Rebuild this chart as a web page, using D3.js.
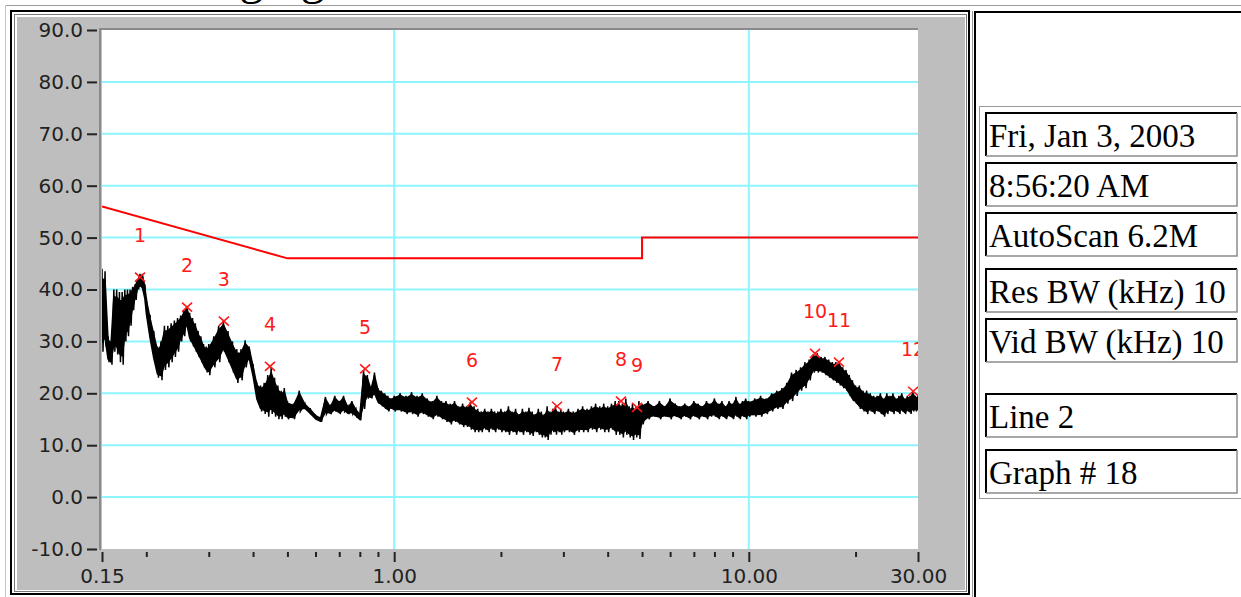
<!DOCTYPE html>
<html>
<head>
<meta charset="utf-8">
<script src="https://cdn.jsdelivr.net/npm/d3@7"></script>
<style>
  body { margin: 0; background: #fff; }
  svg { display: block; }
</style>
</head>
<body>
<svg id="chart" width="1241" height="597"></svg>
<script>
// level axis (dBuV) and frequency axis (MHz)
const yTicks = [-10, 0, 10, 20, 30, 40, 50, 60, 70, 80, 90];
const xMajor = [0.15, 1, 10, 30];
const xMajorLabels = ["0.15", "1.00", "10.00", "30.00"];
const xMinor = [0.2, 0.3, 0.4, 0.5, 0.6, 0.7, 0.8, 0.9, 2, 3, 4, 5, 6, 7, 8, 9, 20];
const gridLevels = [0, 10, 20, 30, 40, 50, 60, 70, 80];
const gridFreqs = [1, 10];

// limit line
const limitFreq = [0.15, 0.5, 5, 5, 30];
const limitLevel = [56, 46, 46, 50, 50];

// peak markers
const markerFreq = [0.192, 0.2606, 0.331, 0.4465, 0.828, 1.657, 2.879, 4.36, 4.84, 15.37, 17.96, 29.06];
const markerLevel = [42.4, 36.6, 33.9, 25.2, 24.7, 18.3, 17.5, 18.5, 17.3, 27.7, 26.0, 20.4];
const markerLabels = ["1", "2", "3", "4", "5", "6", "7", "8", "9", "10", "11", "12"];

// scan trace, read as max / min envelope per frequency
const traceFreq = [
  0.150, 0.153, 0.156, 0.159, 0.162, 0.165, 0.168, 0.171, 0.174, 0.177, 0.180, 0.183, 0.186, 0.189, 0.192, 0.195, 0.198,
  0.200, 0.205, 0.210, 0.215, 0.220, 0.225, 0.230, 0.235, 0.240, 0.245, 0.250, 0.255, 0.260, 0.265, 0.270, 0.275, 0.280, 0.285, 0.290, 0.295, 0.300,
  0.31, 0.32, 0.33, 0.34, 0.35, 0.36, 0.37, 0.38, 0.39, 0.40, 0.41, 0.42, 0.43, 0.44, 0.45, 0.46, 0.47, 0.48, 0.49, 0.50,
  0.52, 0.54, 0.56, 0.58, 0.60, 0.62, 0.64, 0.66, 0.68, 0.70, 0.72, 0.74, 0.76, 0.78, 0.80, 0.82, 0.84, 0.86, 0.88, 0.90, 0.92, 0.94, 0.96, 0.98, 1.00,
  1.04, 1.08, 1.12, 1.16, 1.20, 1.24, 1.28, 1.32, 1.36, 1.40, 1.44, 1.48, 1.52, 1.56, 1.60, 1.64, 1.68, 1.72, 1.76, 1.80, 1.84, 1.88, 1.92, 1.96, 2.00,
  2.05, 2.10, 2.15, 2.20, 2.25, 2.30, 2.35, 2.40, 2.45, 2.50, 2.55, 2.60, 2.65, 2.70, 2.75, 2.80, 2.85, 2.90, 2.95, 3.00,
  3.1, 3.2, 3.3, 3.4, 3.5, 3.6, 3.7, 3.8, 3.9, 4.0, 4.1, 4.2, 4.3, 4.4, 4.5, 4.6, 4.7, 4.8, 4.9, 5.0,
  5.2, 5.4, 5.6, 5.8, 6.0, 6.2, 6.4, 6.6, 6.8, 7.0, 7.2, 7.4, 7.6, 7.8, 8.0, 8.2, 8.4, 8.6, 8.8, 9.0, 9.2, 9.4, 9.6, 9.8, 10.0,
  10.4, 10.8, 11.2, 11.6, 12.0, 12.4, 12.8, 13.2, 13.6, 14.0, 14.4, 14.8, 15.2, 15.6, 16.0, 16.4, 16.8, 17.2, 17.6, 18.0, 18.4, 18.8, 19.2, 19.6, 20.0,
  20.5, 21.0, 21.5, 22.0, 22.5, 23.0, 23.5, 24.0, 24.5, 25.0, 25.5, 26.0, 26.5, 27.0, 27.5, 28.0, 28.5, 29.0, 29.5, 30.0
];
const traceHi = [
  44, 43.5, 31, 30, 40, 40, 39.5, 39.5, 40, 40, 40, 40.5, 41, 42, 43, 43, 41,
  38.5, 35, 32, 29, 30, 33, 33, 33.5, 34, 34.5, 35, 36, 36.8, 35.5, 34.5, 33.5, 32, 31, 29.5, 29, 29.5,
  31, 33, 33.9, 32, 30, 28.5, 28.5, 30.2, 29, 25.5, 22, 21.5, 22, 23.5, 25, 23, 21.5, 20.5, 21, 18.5,
  18, 20.5, 18, 17, 15.8, 15.3, 19.3, 17.5, 19.5, 18.5, 19.5, 17.5, 18.5, 17, 16, 24.5, 23.5, 21, 24, 21, 20.5, 20, 19.5, 19, 19.5,
  20, 19.5, 20.2, 19.5, 20, 19, 18.5, 19.5, 18.5, 18.5, 18, 18.5, 17.5, 18, 17.5, 18.3, 17.5, 17, 16.5, 17, 16.5, 17, 16.5, 16.5, 17,
  16.5, 17.5, 16.5, 17, 16, 17, 16.5, 17.2, 16.5, 16, 17, 16.5, 16, 17.5, 16.5, 17, 17.5, 16.5, 17, 16.5,
  17, 16.5, 17, 17.5, 17, 17.5, 18, 17.5, 18, 17.5, 18, 18.5, 18.5, 18, 19, 17.5, 18, 17.3, 18.5, 18,
  18.5, 17.5, 18.5, 17.5, 19, 18, 17.5, 18, 17.5, 18.5, 18, 17.5, 18.5, 18, 19, 18, 18.5, 17.5, 18.5, 18, 19.3, 18, 18.5, 19, 18.5,
  19, 19.5, 19, 20, 20.5, 21, 22, 24, 24.5, 25, 26, 26.5, 27.5, 27.7, 27, 27, 26.5, 26, 26, 26, 25, 24.5, 23.5, 22.5, 21.5,
  21.5, 20.5, 20.5, 20, 19.5, 19.5, 20, 19, 20, 19.5, 20, 19, 19.5, 20, 19, 19.5, 19.5, 20.4, 19.5, 19.5
];
const traceLo = [
  28, 29, 26, 25.5, 28, 27.5, 26, 25.5, 30, 31, 33, 36, 38, 40, 40.5, 40, 38,
  35, 30, 26, 23, 22.5, 24.5, 25, 26, 27, 28, 30, 31, 33, 30, 29, 28, 27, 26, 25, 24, 23.5,
  25, 26, 28, 26, 24, 22, 22.5, 25, 26.5, 23, 18.5, 16.5, 16, 15.5, 16, 15.5, 15, 15, 15.5, 15,
  15, 16.5, 17, 16, 15, 14.5, 16, 16, 16.5, 16, 16.5, 16, 16, 15.5, 14.8, 17, 19, 19, 19.5, 18, 17.5, 17, 16.5, 17, 16.5,
  16.5, 16, 16, 15.5, 16, 15.5, 15, 15.5, 15, 14.5, 14, 14.5, 14, 13.5, 13.5, 13, 12.5, 12.5, 12.5, 13, 12.5, 13, 12.5, 13, 12.5,
  12.5, 12, 12.5, 12, 12.5, 12, 12.5, 12, 11.8, 12.5, 12, 11.5, 11.5, 11, 12, 12.5, 12, 12.5, 12, 12.5,
  12.5, 12, 12.5, 12.5, 12.5, 13, 12.5, 13, 12.5, 12.5, 13, 12, 12, 11.5, 12, 11.5, 11, 11.5, 11.2, 14,
  15, 15.5, 15, 15.5, 15, 15.5, 15, 15.5, 15, 15.5, 15, 15.5, 15, 15.5, 15.5, 15, 15.5, 15, 15.5, 15, 15.5, 15, 15.5, 15, 15.5,
  15.5, 15.5, 16, 16.5, 17, 17, 18, 18.5, 19.5, 20.5, 21, 22.5, 24, 24, 24, 23.5, 23, 22.5, 22, 21.5, 21, 20.5, 19.5, 18.5, 18,
  17, 16.5, 16, 16.5, 16, 16.5, 16, 15.5, 16, 16.5, 16, 16.5, 16, 16.5, 16, 16.5, 16, 16.5, 16.5, 16.5
];

// settings table on the right
const infoLines = ["Fri, Jan 3, 2003", "8:56:20 AM", "AutoScan 6.2M", "Res BW (kHz) 10", "Vid BW (kHz) 10", "Line 2", "Graph # 18"];

const svg = d3.select("#chart");

// page heading, mostly above the visible area (cut off in the original too)
svg.append("text")
    .attr("x", 147)
    .attr("y", -6)
    .attr("font-family", "Liberation Serif")
    .attr("font-size", 48)
    .attr("fill", "#000")
    .text("Charging");

// page and cell frames
svg.append("line").attr("x1", 5).attr("y1", 5.5).attr("x2", 1241).attr("y2", 5.5).attr("stroke", "#9c9c9c");
svg.append("line").attr("x1", 5.5).attr("y1", 5).attr("x2", 5.5).attr("y2", 597).attr("stroke", "#c4c4c4");

svg.append("rect")
    .attr("x", 11).attr("y", 11).attr("width", 958).attr("height", 583)
    .attr("fill", "none").attr("stroke", "#000").attr("stroke-width", 2);
svg.append("rect")
    .attr("x", 14.5).attr("y", 14.5).attr("width", 952).attr("height", 577)
    .attr("fill", "none").attr("stroke", "#777");
svg.append("rect")
    .attr("x", 17).attr("y", 17).attr("width", 948).attr("height", 573)
    .attr("fill", "#bebebe");

// right cell
svg.append("line").attr("x1", 972.5).attr("y1", 11).attr("x2", 972.5).attr("y2", 597).attr("stroke", "#999");
svg.append("line").attr("x1", 975).attr("y1", 11).attr("x2", 975).attr("y2", 597).attr("stroke", "#000").attr("stroke-width", 2);
svg.append("line").attr("x1", 974).attr("y1", 12).attr("x2", 1241).attr("y2", 12).attr("stroke", "#000").attr("stroke-width", 2);

// scales
const x = d3.scaleLog().domain([0.15, 30]).range([102, 918]);
const y = d3.scaleLinear().domain([-10, 90]).range([549, 30]);

// plot area
svg.append("rect")
    .attr("x", x(0.15)).attr("y", y(90)).attr("width", x(30) - x(0.15)).attr("height", y(-10) - y(90))
    .attr("fill", "#fff");
svg.append("line").attr("x1", 100).attr("y1", 28).attr("x2", 100).attr("y2", 550)
    .attr("stroke", "#8a8a8a").attr("stroke-width", 2);
svg.append("line").attr("x1", 99).attr("y1", 29).attr("x2", 918).attr("y2", 29)
    .attr("stroke", "#8a8a8a").attr("stroke-width", 2);

svg.append("clipPath").attr("id", "plotClip")
    .append("rect")
    .attr("x", x(0.15)).attr("y", y(90)).attr("width", x(30) - x(0.15)).attr("height", y(-10) - y(90));

const plot = svg.append("g").attr("clip-path", "url(#plotClip)");

// cyan grid
plot.selectAll(".hgrid")
    .data(gridLevels)
    .enter()
    .append("line")
    .attr("x1", x(0.15)).attr("x2", x(30))
    .attr("y1", d => y(d)).attr("y2", d => y(d))
    .attr("stroke", "#8ef5ff").attr("stroke-width", 2);
plot.selectAll(".vgrid")
    .data(gridFreqs)
    .enter()
    .append("line")
    .attr("x1", d => x(d)).attr("x2", d => x(d))
    .attr("y1", y(90)).attr("y2", y(-10))
    .attr("stroke", "#8ef5ff").attr("stroke-width", 2);

// limit line
const limitData = limitFreq.map((f, i) => ({ f: f, v: limitLevel[i] }));
plot.append("path")
    .datum(limitData)
    .attr("fill", "none")
    .attr("stroke", "#ff0000")
    .attr("stroke-width", 2)
    .attr("d", d3.line().x(d => x(d.f)).y(d => y(d.v)));

// scan trace: dense core of the envelope plus a spike per reading
const traceData = traceFreq.map((f, i) => ({ f: f, hi: traceHi[i], lo: traceLo[i] }));
plot.append("path")
    .datum(traceData)
    .attr("fill", "#000")
    .attr("stroke", "#000")
    .attr("stroke-width", 1.5)
    .attr("stroke-linejoin", "round")
    .attr("d", d3.area()
        .x(d => x(d.f))
        .y0(d => y(d.lo + 0.12 * (d.hi - d.lo)))
        .y1(d => y(d.hi - 0.12 * (d.hi - d.lo))));

// zigzag through every reading: up to the max, down to the min
const zig = [];
traceData.forEach(d => {
    zig.push([x(d.f), y(d.hi)]);
    zig.push([x(d.f) + 1, y(d.lo)]);
});
plot.append("path")
    .attr("fill", "none")
    .attr("stroke", "#000")
    .attr("stroke-width", 1.5)
    .attr("d", d3.line()(zig));

// markers
const markers = markerFreq.map((f, i) => ({ f: f, v: markerLevel[i], label: markerLabels[i] }));
const mk = plot.selectAll(".marker")
    .data(markers)
    .enter()
    .append("g")
    .attr("transform", d => `translate(${x(d.f)},${y(d.v)})`);
mk.append("path")
    .attr("d", "M-5,-4.5L5,4.5M-5,4.5L5,-4.5")
    .attr("stroke", "#ff1a1a")
    .attr("stroke-width", 1.6)
    .attr("fill", "none");
mk.append("text")
    .attr("y", -35)
    .attr("text-anchor", "middle")
    .attr("font-family", "DejaVu Sans")
    .attr("font-size", 19)
    .attr("fill", "#ff1a1a")
    .text(d => d.label);

// axes
const yAxis = svg.append("g")
    .attr("transform", "translate(97,0)")
    .call(d3.axisLeft(y).tickValues(yTicks).tickSize(10).tickPadding(4).tickFormat(d => d.toFixed(1)));
yAxis.select(".domain").remove();
yAxis.selectAll("line").attr("stroke", "#222").attr("stroke-width", 2);
yAxis.selectAll("text").attr("font-family", "DejaVu Sans").attr("font-size", 20).attr("fill", "#222");

const xAxis = svg.append("g")
    .attr("transform", "translate(0,552)")
    .call(d3.axisBottom(x).tickValues(xMajor).tickSize(10).tickPadding(7)
        .tickFormat((d, i) => xMajorLabels[i]));
xAxis.select(".domain").remove();
xAxis.selectAll("line").attr("stroke", "#222").attr("stroke-width", 2);
xAxis.selectAll("text").attr("font-family", "DejaVu Sans").attr("font-size", 20).attr("fill", "#222");

const xMinorAxis = svg.append("g")
    .attr("transform", "translate(0,552)")
    .call(d3.axisBottom(x).tickValues(xMinor).tickSize(5).tickFormat(""));
xMinorAxis.select(".domain").remove();
xMinorAxis.selectAll("line").attr("stroke", "#222").attr("stroke-width", 2);

// settings table
svg.append("rect")
    .attr("x", 979.5).attr("y", 106.5).attr("width", 270).attr("height", 392)
    .attr("fill", "none").attr("stroke", "#999");

const boxTop = [113, 163, 213, 269, 319, 394, 450];
const boxes = svg.selectAll(".info")
    .data(infoLines)
    .enter()
    .append("g")
    .attr("transform", (d, i) => `translate(986,${boxTop[i]})`);
boxes.append("path")
    .attr("d", "M0,43V0H251")
    .attr("fill", "none").attr("stroke", "#000").attr("stroke-width", 2);
boxes.append("path")
    .attr("d", "M0,43H251V0")
    .attr("fill", "none").attr("stroke", "#8c8c8c").attr("stroke-width", 1.5);
boxes.append("text")
    .attr("x", 3)
    .attr("y", 34)
    .attr("font-family", "Liberation Serif")
    .attr("font-size", 33)
    .attr("fill", "#000")
    .text(d => d);
</script>
</body>
</html>
